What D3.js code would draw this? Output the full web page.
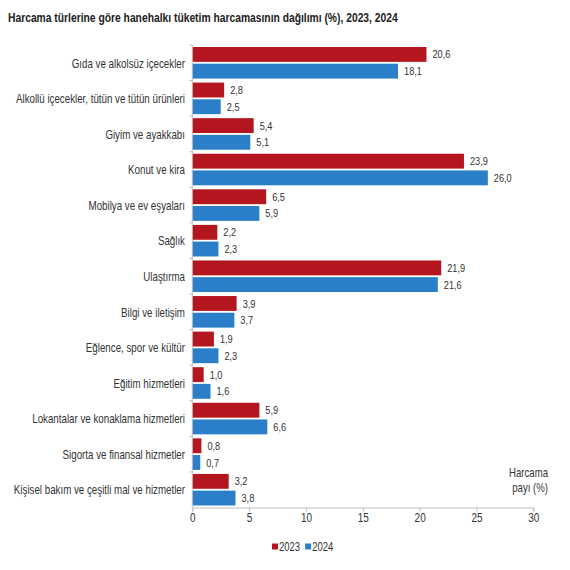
<!DOCTYPE html>
<html><head><meta charset="utf-8">
<script src="https://cdn.jsdelivr.net/npm/d3@7"></script>
<style>
html,body{margin:0;padding:0;background:#fff;}
text{font-family:"Liberation Sans",Arial,sans-serif;}
</style></head>
<body>
<svg id="c" width="570" height="570"></svg>
<script>
const title = "Harcama türlerine göre hanehalkı tüketim harcamasının dağılımı (%), 2023, 2024";
const categories = ["Gıda ve alkolsüz içecekler","Alkollü içecekler, tütün ve tütün ürünleri","Giyim ve ayakkabı","Konut ve kira","Mobilya ve ev eşyaları","Sağlık","Ulaştırma","Bilgi ve iletişim","Eğlence, spor ve kültür","Eğitim hizmetleri","Lokantalar ve konaklama hizmetleri","Sigorta ve finansal hizmetler","Kişisel bakım ve çeşitli mal ve hizmetler"];
const series = ["2023","2024"];
const values2023 = [20.6,2.8,5.4,23.9,6.5,2.2,21.9,3.9,1.9,1.0,5.9,0.8,3.2];
const values2024 = [18.1,2.5,5.1,26.0,5.9,2.3,21.6,3.7,2.3,1.6,6.6,0.7,3.8];
const xTicks = [0,5,10,15,20,25,30];
const colors = ["#b3161e","#2a7fc8"];

const SX = 0.8; // narrow-font look
const data = categories.map((c,i)=>({cat:c, vals:[values2023[i], values2024[i]]}));
const svg = d3.select("#c");
const pLeft=192.3, pRight=533.3, pTop=45, pBottom=507.5;

function ntext(parent, x, y, str, size, anchor, sx, extra){
  const gg = parent.append("g").attr("transform",`translate(${x},${y}) scale(${sx},1)`);
  const t = gg.append("text").attr("x",0).attr("y",0).attr("font-size",size)
    .attr("text-anchor",anchor||"start").attr("fill","#333").text(str);
  if (extra) extra(t);
  return t;
}

// title, fitted to reference width
const tt = ntext(svg, 8, 22, title, 13.5, "start", 1, t=>t.attr("font-weight","bold").attr("fill","#222"));
const tw = tt.node().getComputedTextLength();
d3.select(tt.node().parentNode).attr("transform",`translate(8,22) scale(${390/tw},1)`);

const x = d3.scaleLinear().domain([0,30]).range([pLeft,pRight]);
const y = d3.scaleBand().domain(categories).range([pTop,pBottom]);
const y2 = d3.scaleBand().domain(series).range([0,y.bandwidth()]).paddingInner(0.11).paddingOuter(0.12);

const fmt = v => d3.format(".1f")(v).replace(".",",");

const g = svg.append("g");
data.forEach(d=>{
  const gg = g.append("g").attr("transform",`translate(0,${y(d.cat)})`);
  series.forEach((s,j)=>{
    gg.append("rect").attr("x",x(0)).attr("y",y2(s)).attr("width",x(d.vals[j])-x(0)).attr("height",y2.bandwidth()).attr("fill",colors[j]);
    ntext(gg, x(d.vals[j])+6, y2(s)+y2.bandwidth()/2, fmt(d.vals[j]), 11.5, "start", SX, t=>t.attr("dy","0.35em"));
  });
  ntext(svg, 185, y(d.cat)+y.bandwidth()/2+0.5, d.cat, 12.2, "end", SX, t=>t.attr("dy","0.35em"));
});

svg.append("line").attr("x1",pLeft).attr("x2",pLeft).attr("y1",pTop).attr("y2",pBottom).attr("stroke","#bfbfbf");
categories.forEach(c=>{
  svg.append("line").attr("x1",pLeft-3).attr("x2",pLeft).attr("y1",y(c)).attr("y2",y(c)).attr("stroke","#bfbfbf");
});

const xa = svg.append("g").attr("transform",`translate(0,${pBottom})`)
  .call(d3.axisBottom(x).tickValues(xTicks).tickSize(4).tickPadding(2));
xa.select(".domain").attr("stroke","#bfbfbf");
xa.selectAll(".tick line").attr("stroke","#bfbfbf");
xa.selectAll(".tick text").attr("font-size",12.5).attr("fill","#333")
  .attr("font-family","Liberation Sans, Arial, sans-serif").attr("transform",`scale(${SX},1)`);

ntext(svg, 548, 477, "Harcama", 12, "end", SX);
ntext(svg, 548, 492, "payı  (%)", 12, "end", SX);

const lg = svg.append("g").attr("transform","translate(272,547)");
let lx=0;
series.forEach((s,j)=>{
  lg.append("rect").attr("x",lx).attr("y",-3.5).attr("width",6).attr("height",6).attr("fill",colors[j]);
  const t = ntext(lg, lx+7, 0, s, 12.5, "start", 0.76, t=>t.attr("dy","0.35em"));
  lx += 7 + t.node().getComputedTextLength()*0.76 + 5;
});
</script>
</body></html>
